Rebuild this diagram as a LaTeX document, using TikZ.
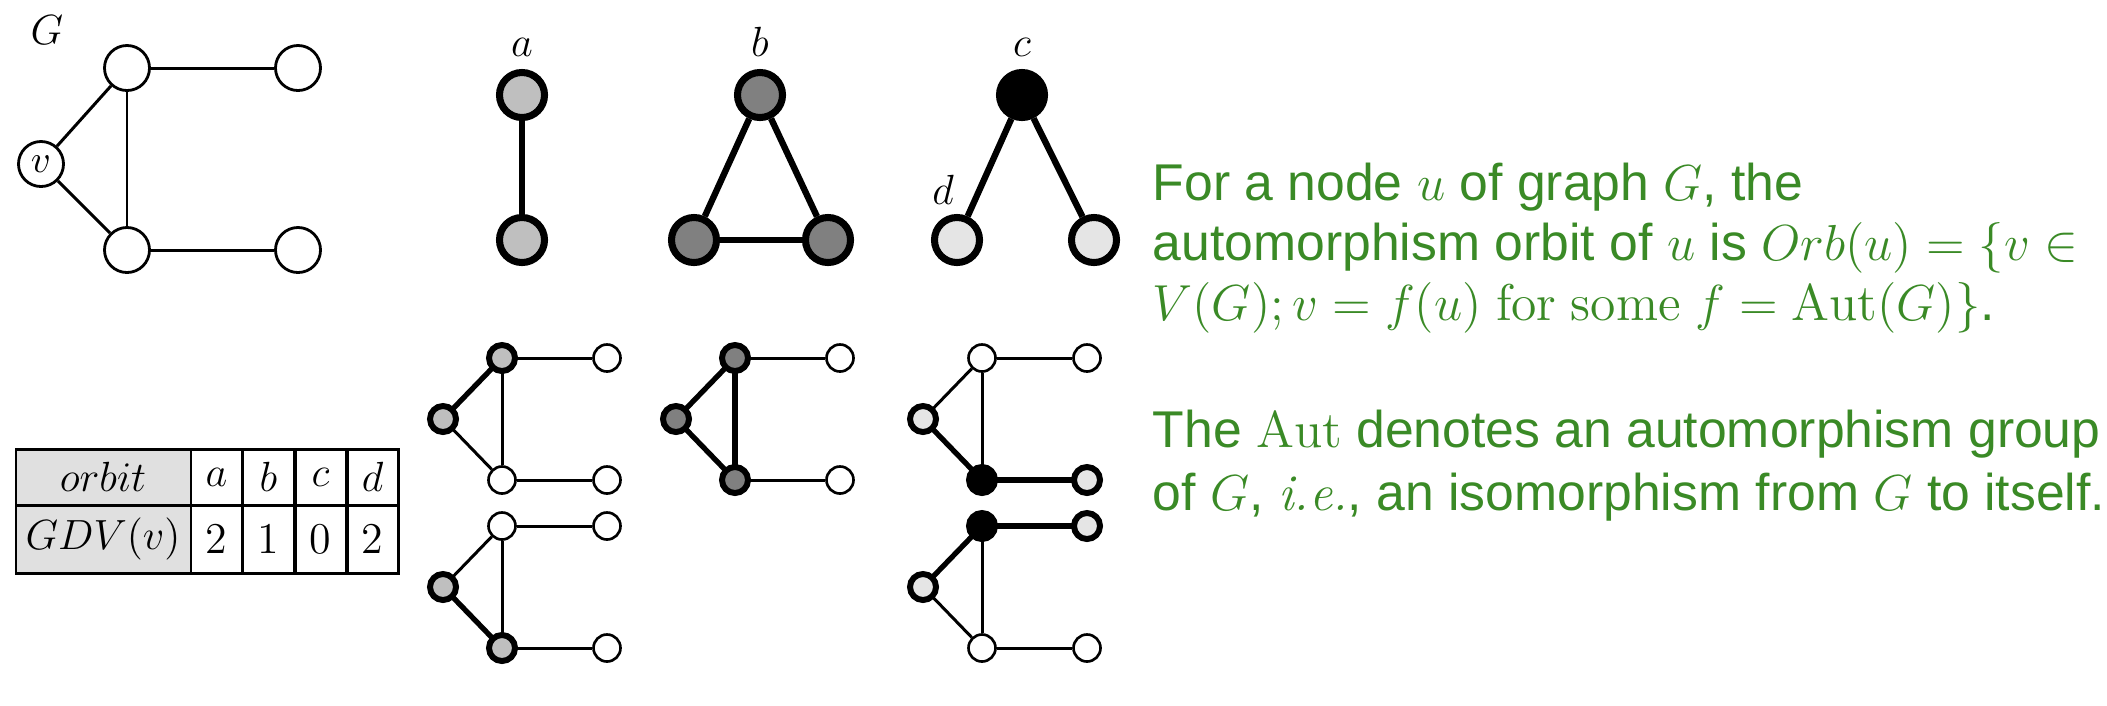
\documentclass[tikz,border=0pt]{standalone}
\usepackage{fontspec}
\setsansfont{Liberation Sans}
\usetikzlibrary{positioning}
\definecolor{txtgreen}{RGB}{58,138,38}
\definecolor{orbA}{gray}{0.75}
\definecolor{orbB}{gray}{0.5}
\definecolor{orbD}{gray}{0.9}
\begin{document}
\begin{tikzpicture}[x=0.01cm, y=-0.01cm,
    gnode/.style={circle, draw, fill=white, line width=0.8pt, minimum size=0.45cm, inner sep=0pt},
    gedge/.style={line width=0.85pt},
    orbnode/.style={circle, draw, line width=2pt, minimum size=0.45cm, inner sep=0pt},
    orbedge/.style={line width=1.8pt},
    smallnode/.style={circle, draw, fill=white, line width=0.75pt, minimum size=0.27cm, inner sep=0pt},
    hlnode/.style={smallnode, line width=1.7pt, minimum size=0.26cm},
    plainedge/.style={line width=0.85pt},
    boldedge/.style={line width=1.5pt},
    lbl/.style={font=\fontsize{12}{14}\selectfont},
    cell/.style={font=\fontsize{12.5}{15}\selectfont},
    txt/.style={anchor=base west, inner sep=0pt, text=txtgreen, font=\sffamily\fontsize{14.7}{17}\selectfont}]
    \useasboundingbox (0,0) rectangle (2107,705);

    % graph G
    \node[lbl] (glabel) at (47,30) {$G$};
    \node[gnode] (gtop) at (127,68) {};
    \node[gnode] (gtr) at (298,68) {};
    \node[gnode, font=\fontsize{11}{12}\selectfont] (gv) at (41,164) {$v$};
    \node[gnode] (gbot) at (127,250) {};
    \node[gnode] (gbr) at (298,250) {};
    \draw[gedge] (gv) -- (gtop);
    \draw[gedge] (gv) -- (gbot);
    \draw[gedge] (gtop) -- (gbot);
    \draw[gedge] (gtop) -- (gtr);
    \draw[gedge] (gbot) -- (gbr);

    % orbits a, b, c, d
    \node[orbnode, fill=orbA] (atop) at (522,95) {};
    \node[orbnode, fill=orbA] (abot) at (522,240) {};
    \node[lbl, above=0pt of atop] (alabel) {$a$};
    \draw[orbedge] (atop) -- (abot);

    \node[orbnode, fill=orbB] (btop) at (760,95) {};
    \node[orbnode, fill=orbB] (bleft) at (694,240) {};
    \node[orbnode, fill=orbB] (bright) at (828,240) {};
    \node[lbl, above=0pt of btop] (blabel) {$b$};
    \draw[orbedge] (btop) -- (bleft);
    \draw[orbedge] (btop) -- (bright);
    \draw[orbedge] (bleft) -- (bright);

    \node[orbnode, fill=black] (ctop) at (1022,95) {};
    \node[orbnode, fill=orbD] (dleft) at (957,240) {};
    \node[orbnode, fill=orbD] (dright) at (1094,240) {};
    \node[lbl, above=0pt of ctop] (clabel) {$c$};
    \node[lbl] (dlabel) at (943,190) {$d$};
    \draw[orbedge] (ctop) -- (dleft);
    \draw[orbedge] (ctop) -- (dright);

    % copies of G
    \foreach \k/\L/\T in {1/443/358, 2/443/526, 3/676/358, 4/923/358, 5/923/526} {
        \node[smallnode] (p\k top) at ({\L+59},\T) {};
        \node[smallnode] (p\k tr) at ({\L+164},\T) {};
        \node[smallnode] (p\k left) at (\L,{\T+61}) {};
        \node[smallnode] (p\k bot) at ({\L+59},{\T+122}) {};
        \node[smallnode] (p\k br) at ({\L+164},{\T+122}) {};
        \draw[plainedge] (p\k left) -- (p\k top);
        \draw[plainedge] (p\k left) -- (p\k bot);
        \draw[plainedge] (p\k top) -- (p\k bot);
        \draw[plainedge] (p\k top) -- (p\k tr);
        \draw[plainedge] (p\k bot) -- (p\k br);
    }
    \node[hlnode, fill=orbA] at (p1top) {};
    \node[hlnode, fill=orbA] at (p1left) {};
    \draw[boldedge] (p1left) -- (p1top);

    \node[hlnode, fill=orbA] at (p2left) {};
    \node[hlnode, fill=orbA] at (p2bot) {};
    \draw[boldedge] (p2left) -- (p2bot);

    \node[hlnode, fill=orbB] at (p3top) {};
    \node[hlnode, fill=orbB] at (p3left) {};
    \node[hlnode, fill=orbB] at (p3bot) {};
    \draw[boldedge] (p3left) -- (p3top);
    \draw[boldedge] (p3left) -- (p3bot);
    \draw[boldedge] (p3top) -- (p3bot);

    \node[hlnode, fill=black] at (p4bot) {};
    \node[hlnode, fill=orbD] at (p4left) {};
    \node[hlnode, fill=orbD] at (p4br) {};
    \draw[boldedge] (p4left) -- (p4bot);
    \draw[boldedge] (p4bot) -- (p4br);

    \node[hlnode, fill=black] at (p5top) {};
    \node[hlnode, fill=orbD] at (p5left) {};
    \node[hlnode, fill=orbD] at (p5tr) {};
    \draw[boldedge] (p5left) -- (p5top);
    \draw[boldedge] (p5top) -- (p5tr);

    % GDV table
    \draw[line width=0.85pt, fill=black!12] (16,449) rectangle (191,573);
    \draw[line width=0.85pt] (16,505) -- (191,505);
    \node[cell] (orbit) at (103,477) {$orbit$};
    \node[cell] (gdv) at (103,539) {$GDV(v)$};
    \foreach \x/\o/\n in {191/a/2, 243/b/1, 295/c/0, 347/d/2} {
        \draw[line width=0.85pt, fill=white] (\x,449) rectangle ({\x+51},573);
        \draw[line width=0.85pt] (\x,505) -- ({\x+51},505);
        \node[cell] (orb\o) at ({\x+25.5},477) {$\o$};
        \node[cell] (val\o) at ({\x+25.5},539) {\n};
    }

    % definition text
    \node[txt] (line1) at (1152,200) {For a node $u$ of graph $G$, the};
    \node[txt] (line2) at (1152,260) {automorphism orbit of $u$ is $Orb(u)=\{v\in$};
    \node[txt] (line3) at (1152,320) {$V(G);v=f(u)\ \mathrm{for\ some}\ f=\mathrm{Aut}(G)\}$.};
    \node[txt] (line4) at (1152,447) {The $\mathrm{Aut}$ denotes an automorphism group};
    \node[txt] (line5) at (1152,510) {of $G$, {\rmfamily\itshape i.e.}, an isomorphism from $G$ to itself.};
\end{tikzpicture}
\end{document}
